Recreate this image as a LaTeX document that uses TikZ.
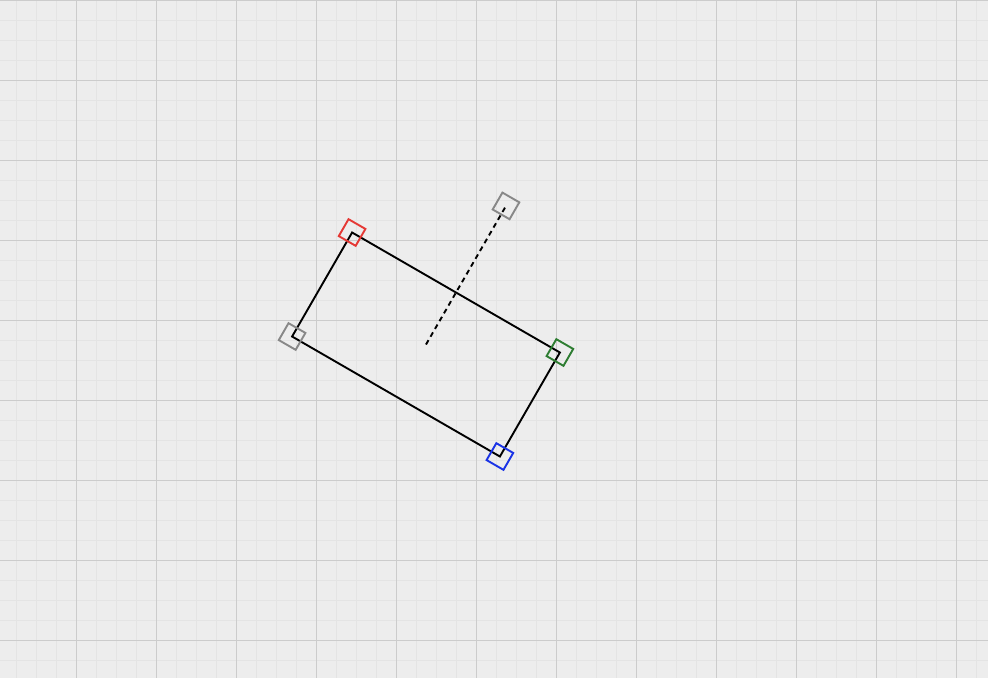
\documentclass[tikz,border=0pt]{standalone}
\definecolor{bgc}{RGB}{237,237,237}
\definecolor{minc}{RGB}{228,228,228}
\definecolor{majc}{RGB}{204,204,204}
\definecolor{hred}{RGB}{229,57,53}
\definecolor{hgreen}{RGB}{46,125,50}
\definecolor{hblue}{RGB}{26,51,230}
\definecolor{hgray}{RGB}{136,136,136}
\begin{document}
\begin{tikzpicture}[x=1pt,y=-1pt,
  minorline/.style={draw=minc, line width=1pt},
  majorline/.style={draw=majc, line width=1pt},
  edge/.style={draw=black, line width=1.9pt},
  handle/.style={draw=#1, line width=1.9pt, minimum size=19.5pt, inner sep=0pt, rectangle, rotate=-30},
  rotline/.style={draw=black, line width=1.9pt, dash pattern=on 5pt off 4pt}]
\useasboundingbox (0,0) rectangle (988,678);
\fill[bgc] (0,0) rectangle (988,678);
\foreach \x in {16,36,...,996} \draw[minorline] (\x,0) -- (\x,678);
\foreach \y in {0,20,...,680} \draw[minorline] (0,\y) -- (988,\y);
\foreach \x in {76,156,...,996} \draw[majorline] (\x,0) -- (\x,678);
\foreach \y in {0,80,...,680} \draw[majorline] (0,\y) -- (988,\y);
\coordinate (c) at (426,344.5);
\coordinate (tl) at (352.1,232.5);
\coordinate (tr) at (559.9,352.5);
\coordinate (br) at (499.9,456.5);
\coordinate (bl) at (292.1,336.5);
\coordinate (rt) at (506,205.9);
\draw[rotline] (c) -- (rt);
\draw[edge] (tl) -- (tr) -- (br) -- (bl) -- cycle;
\node[handle=hred] (htl) at (tl) {};
\node[handle=hgreen] (htr) at (tr) {};
\node[handle=hblue] (hbr) at (br) {};
\node[handle=hgray] (hbl) at (bl) {};
\node[handle=hgray] (hrt) at (rt) {};
\end{tikzpicture}
\end{document}
